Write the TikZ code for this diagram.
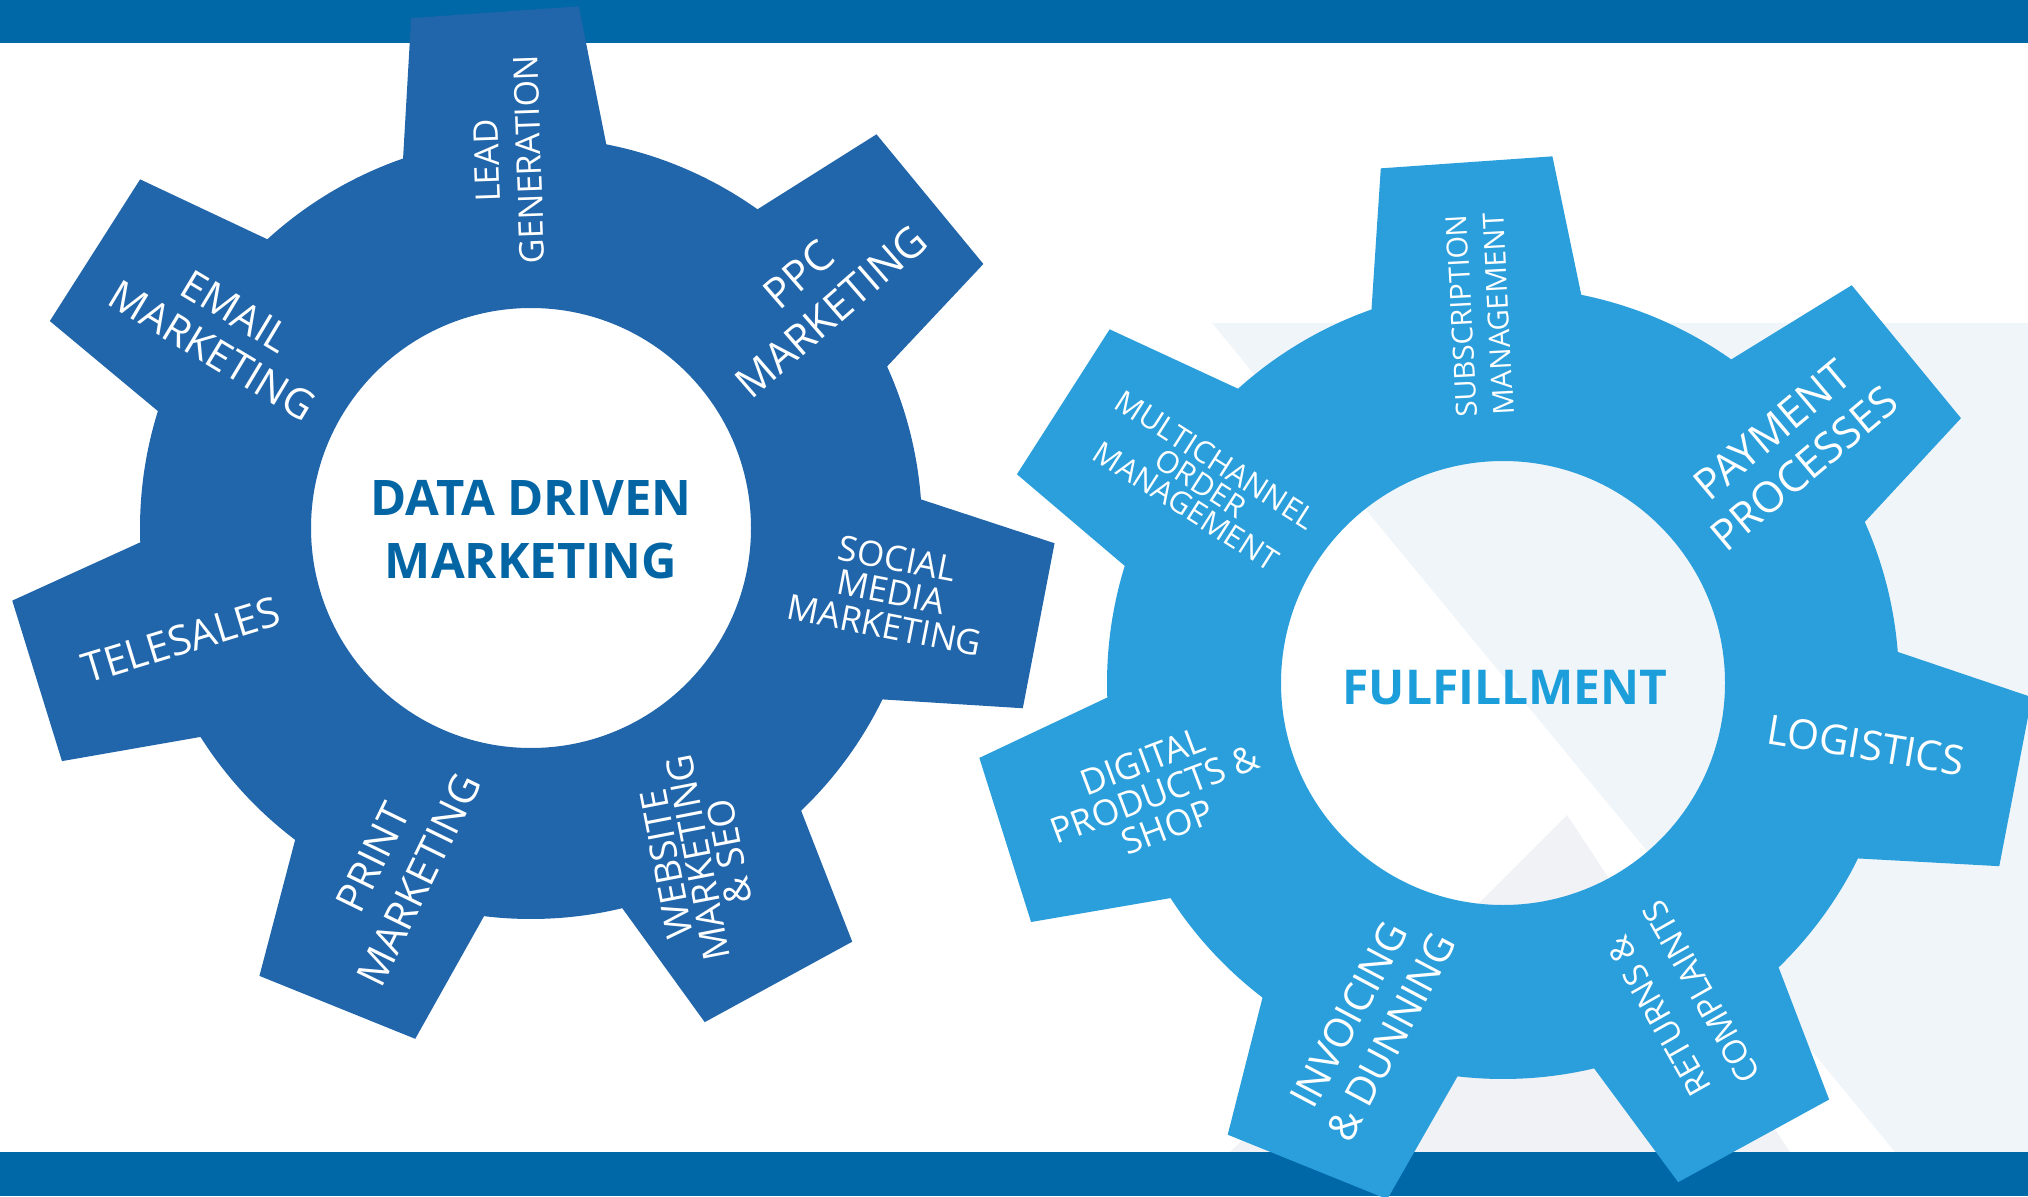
\documentclass[tikz,border=0pt]{standalone}
\usepackage{fontspec}
\setmainfont{Open Sans}
\definecolor{barblue}{RGB}{0,104,166}
\definecolor{gearL}{RGB}{33,102,170}
\definecolor{gearR}{RGB}{43,159,219}
\definecolor{ddmblue}{RGB}{3,101,164}
\definecolor{fulblue}{RGB}{27,158,218}
\definecolor{paleA}{RGB}{240,245,250}
\definecolor{paleB}{RGB}{240,242,246}
\begin{document}
\begin{tikzpicture}[x=0.5pt,y=0.5pt,
  lbl/.style={text=white, align=center, inner sep=0pt}]
\useasboundingbox (0,0) rectangle (2028,1196);
% pale background shapes
\fill[paleA] (1212,873) -- (2028,873) -- (2028,44) -- (1895,44) -- cycle;
\fill[paleB] (1567,381) -- (1790,44) -- (1230,44) -- cycle;
% bars
\fill[barblue] (0,1153) rectangle (2028,1196);
\fill[barblue] (0,0) rectangle (2028,44);

% left gear
\begin{scope}[shift={(531,668)}]
\fill[gearL, even odd rule] ({94+15.1}:391)
  \foreach \a/\b in {94/39.5, 39.5/-10.9, -10.9/-61.4, -61.4/-112, -112/-162.8, -162.8/-212.5, -212.5/-266}{
    -- ({\a+9.23}:523.8) -- ({\a-9.23}:523.8) -- ({\a-15.1}:391)
    arc[start angle={\a-15.1}, end angle={\b+15.1}, radius=391]
  } -- cycle (0,0) circle[radius=220];
\end{scope}

% right gear
\begin{scope}[shift={(1503,513)}]
\fill[gearR, even odd rule] ({94+15.4}:396)
  \foreach \a/\b in {94/39.4, 39.4/-10.9, -10.9/-61.3, -61.3/-112, -112/-162.5, -162.5/-212.6, -212.6/-266}{
    -- ({\a+9.36}:529) -- ({\a-9.36}:529) -- ({\a-15.4}:396)
    arc[start angle={\a-15.4}, end angle={\b+15.4}, radius=396]
  } -- cycle (0,0) circle[radius=222];
\end{scope}

% centre texts
\node[font=\fontsize{24.5}{31.5}\selectfont\bfseries, text=ddmblue, align=center] (ddm) at (531,666) {DATA DRIVEN\\MARKETING};
\node[font=\fontsize{24}{30}\selectfont\bfseries, text=fulblue] (ful) at (1505,508) {FULFILLMENT};

% left gear labels
\node[lbl, rotate=92, font=\fontsize{17}{21}\selectfont] (lead) at (508,1036) {LEAD\\GENERATION};
\node[lbl, rotate=41, font=\fontsize{21}{24.5}\selectfont] (ppc) at (815,903) {PPC\\MARKETING};
\node[lbl, rotate=-11, font=\fontsize{17.5}{17}\selectfont] (social) at (891,604) {SOCIAL\\MEDIA\\MARKETING};
\node[lbl, rotate=101, font=\fontsize{18.5}{16}\selectfont] (web) at (698,338) {WEBSITE\\MARKETING\\\& SEO};
\node[lbl, rotate=64, font=\fontsize{20.4}{25.5}\selectfont] (print) at (396,327) {PRINT\\MARKETING};
\node[lbl, rotate=17, font=\fontsize{20.5}{24}\selectfont] (tele) at (181,556) {TELESALES};
\node[lbl, rotate=-31, font=\fontsize{20.5}{23}\selectfont] (email) at (224,865) {EMAIL\\MARKETING};

% right gear labels
\node[lbl, rotate=93, font=\fontsize{14.5}{18.5}\selectfont] (subs) at (1480,881) {SUBSCRIPTION\\MANAGEMENT};
\node[lbl, rotate=40, font=\fontsize{21.25}{25}\selectfont] (pay) at (1788,747) {PAYMENT\\PROCESSES};
\node[lbl, rotate=-9.5, font=\fontsize{20.5}{24}\selectfont] (logi) at (1866,451) {LOGISTICS};
\node[lbl, rotate=119.5, font=\fontsize{16.5}{24.5}\selectfont] (ret) at (1680,192) {RETURNS \&\\COMPLAINTS};
\node[lbl, rotate=62, font=\fontsize{20}{24}\selectfont] (inv) at (1370,170) {INVOICING\\\& DUNNING};
\node[lbl, rotate=20.7, font=\fontsize{17.75}{17.5}\selectfont] (digi) at (1155,402) {DIGITAL\\PRODUCTS \&\\SHOP};
\node[lbl, rotate=-32.5, font=\fontsize{15.25}{13.75}\selectfont] (multi) at (1201,713) {MULTICHANNEL\\ORDER\\MANAGEMENT};
\end{tikzpicture}
\end{document}
